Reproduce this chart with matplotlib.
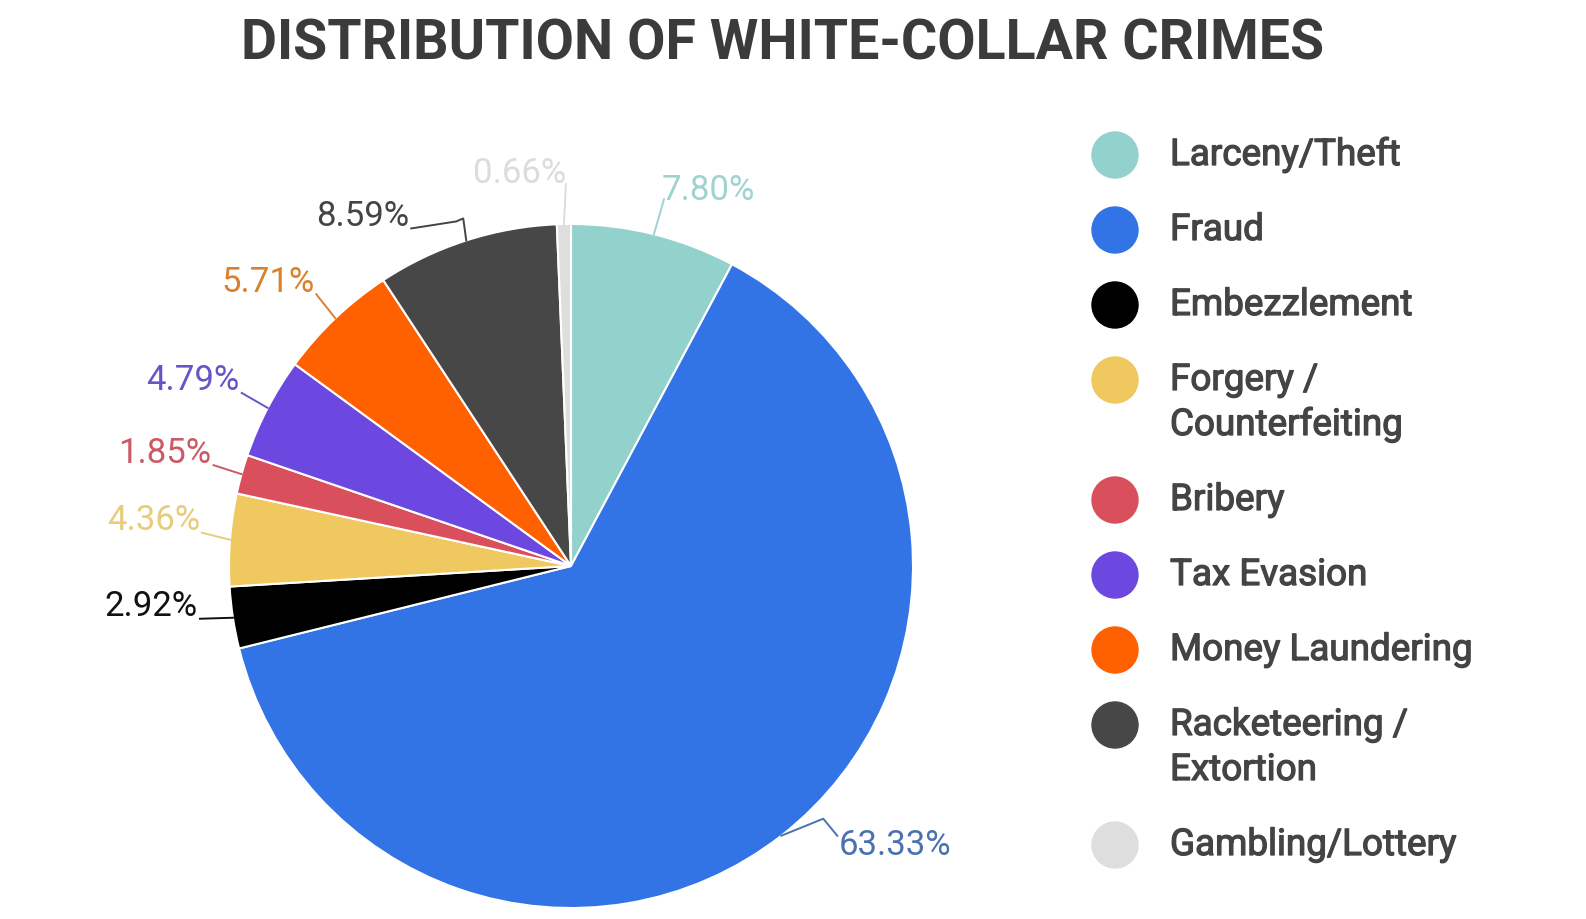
import numpy as np
import matplotlib
matplotlib.use('Agg')
import matplotlib.pyplot as plt
import matplotlib.patheffects as pe
from matplotlib.patches import Ellipse
from matplotlib.lines import Line2D
from matplotlib.transforms import IdentityTransform

# Donnees
categories = ['Larceny/Theft', 'Fraud', 'Embezzlement', 'Forgery /\nCounterfeiting',
              'Bribery', 'Tax Evasion', 'Money Laundering', 'Racketeering /\nExtortion',
              'Gambling/Lottery']
shares = [7.80, 63.33, 2.92, 4.36, 1.85, 4.79, 5.71, 8.59, 0.66]
colors = ['#93d2cc', '#3274e6', '#000000', '#f0c860', '#d9505c',
          '#6c48e0', '#ff6000', '#474747', '#dedede']
label_colors = ['#9fd3cf', '#4a72b0', '#111111', '#e8cc7a', '#cc5a66',
                '#6655c6', '#d8822e', '#444444', '#dcdcdc']

# Position des etiquettes (decalage en pixels depuis le bord de la part)
label_offsets = [(8, 45, 'left'), (57, -9, 'left'), (-35, 12, 'right'),
                 (-30, 20, 'right'), (-30, 22, 'right'), (-28, 28, 'right'),
                 (-21, 37, 'right'), (-57, 25, 'right'), (-44, 52, 'center')]
# traits de rappel particuliers (pixels depuis le bord de la part)
special_leaders = {
    0: [(0, 0), (10, 35)],
    1: [(0, 0), (42, 17), (56, 0)],
    7: [(0, 0), (-3, 22), (-10, 19), (-55, 12)],
    8: [(0, 0), (2, 40)],
}

plt.rcParams['font.family'] = ['Roboto', 'DejaVu Sans']

W, H = 1586, 920
fig = plt.figure(figsize=(W / 100, H / 100), dpi=100)
fig.patch.set_facecolor('white')

cx, cy, r = 571, 567, 342
ax = fig.add_axes([(cx - r) / W, (H - cy - r) / H, 2 * r / W, 2 * r / H])
wedges, _ = ax.pie(shares, colors=colors, startangle=90, counterclock=False,
                   wedgeprops=dict(edgecolor='white', linewidth=1.5))
ax.set_xlim(-1, 1)
ax.set_ylim(-1, 1)

for k, (w, val, col, (dx, dy, ha)) in enumerate(zip(wedges, shares, label_colors,
                                                     label_offsets)):
    ang = np.deg2rad((w.theta1 + w.theta2) / 2)
    xy = (np.cos(ang), np.sin(ang))
    ax.annotate(f'{val:.2f}%', xy=xy, xytext=(dx, dy), textcoords='offset pixels',
                ha=ha, va='center', fontsize=25, color=col, annotation_clip=False)
    # trait de rappel en coordonnees pixels
    px, py = ax.transData.transform(xy)
    pts = special_leaders.get(k, [(0, 0), (dx + 2, dy - 13)])
    fig.add_artist(Line2D([px + p[0] for p in pts], [py + p[1] for p in pts],
                          color=col, lw=1.4, transform=IdentityTransform()))

fig.text(0.4937, 1 - 45 / H, 'DISTRIBUTION OF WHITE-COLLAR CRIMES', ha='center',
         va='center', fontsize=40, fontweight='bold', color='#3b3b3b')

# Legende dessinee a la main
y = 156
for name, col in zip(categories, colors):
    fig.add_artist(Ellipse((1115 / W, 1 - y / H), 46 / W, 46 / H, color=col,
                           transform=fig.transFigure))
    lines = name.split('\n')
    for i, line in enumerate(lines):
        fig.text(1170 / W, 1 - (y + 45 * i) / H, line, ha='left', va='center',
                 fontsize=26.5, color='#444444',
                 path_effects=[pe.withStroke(linewidth=0.9, foreground='#444444')])
    y += 75 + 45 * (len(lines) - 1)

fig.savefig('out.png', dpi=100)
